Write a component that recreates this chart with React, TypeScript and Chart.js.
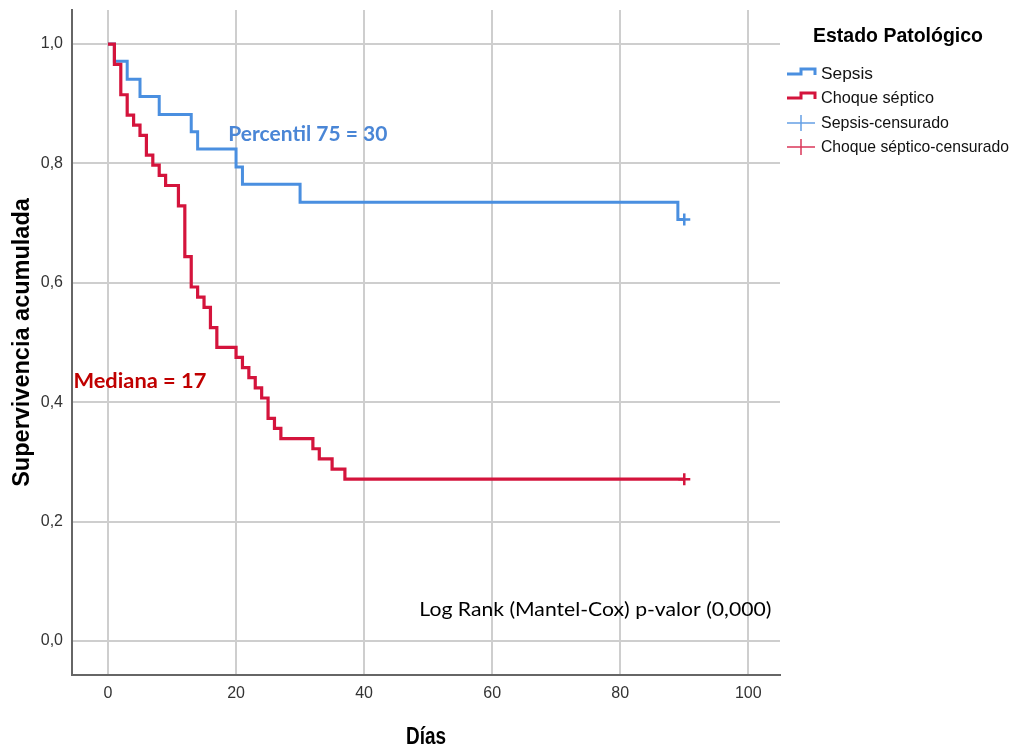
import { useEffect, useRef } from "react";
import { Chart, registerables } from "chart.js";

Chart.register(...registerables);

// ---- data ----
const sepsisDays = [0, 1, 3, 5, 8, 13, 14, 20, 21, 30, 89, 90];
const sepsisSurvival = [1.0, 0.971, 0.941, 0.912, 0.882, 0.853, 0.824, 0.794, 0.765, 0.735, 0.706, 0.706];
const shockDays = [0, 1, 2, 3, 4, 5, 6, 7, 8, 9, 11, 12, 13, 14, 15, 16, 17, 20, 21, 22, 23, 24, 25, 26, 27, 32, 33, 35, 37, 90];
const shockSurvival = [1.0, 0.966, 0.915, 0.881, 0.864, 0.847, 0.814, 0.797, 0.78, 0.763, 0.729, 0.644, 0.593, 0.576, 0.559, 0.525, 0.492, 0.475, 0.458, 0.441, 0.424, 0.407, 0.373, 0.356, 0.339, 0.322, 0.305, 0.288, 0.271, 0.271];
const sepsisCensorDays = [90];
const sepsisCensorSurvival = [0.706];
const shockCensorDays = [90];
const shockCensorSurvival = [0.271];
const xTicks = [0, 20, 40, 60, 80, 100];
const yTicks = [0, 0.2, 0.4, 0.6, 0.8, 1.0];
const legendTitle = "Estado Patológico";
const legendLabels = ["Sepsis", "Choque séptico", "Sepsis-censurado", "Choque séptico-censurado"];
const xTitle = "Días";
const yTitle = "Supervivencia acumulada";
const annotPercentil = "Percentil 75 = 30";
const annotMediana = "Mediana = 17";
const annotLogRank = "Log Rank (Mantel-Cox) p-valor (0,000)";

const BLUE = "#4a8fe0";
const RED = "#d4143c";
const SANS = "'Liberation Sans', Arial, sans-serif";
const CAL = "Lato, 'Open Sans', sans-serif";

function drawFitted(
  ctx: CanvasRenderingContext2D,
  text: string,
  px: number,
  py: number,
  font: string,
  color: string,
  align: CanvasTextAlign,
  targetWidth: number
) {
  ctx.save();
  ctx.font = font;
  const w = ctx.measureText(text).width;
  const sx = targetWidth / w;
  ctx.translate(px, py);
  ctx.scale(sx, 1);
  ctx.fillStyle = color;
  ctx.textAlign = align;
  ctx.textBaseline = "middle";
  ctx.fillText(text, 0, 0);
  ctx.restore();
}

const overlayPlugin = {
  id: "overlay",
  afterDraw(chart: any) {
    const { ctx, chartArea } = chart;
    const xs = chart.scales.x;
    const ys = chart.scales.y;
    // annotations
    drawFitted(ctx, annotPercentil, xs.getPixelForValue(18.8), ys.getPixelForValue(0.848), `bold 20px ${CAL}`, "#4a86d6", "left", 159);
    drawFitted(ctx, annotMediana, xs.getPixelForValue(-5.4), ys.getPixelForValue(0.434), `bold 20px ${CAL}`, "#c00000", "left", 133);
    drawFitted(ctx, annotLogRank, xs.getPixelForValue(103.6), ys.getPixelForValue(0.052), `19px ${CAL}`, "#000000", "right", 352);

    // x axis title (condensed, as in the reference)
    drawFitted(ctx, xTitle, (chartArea.left + chartArea.right) / 2, 738, `bold 23px ${SANS}`, "#000", "center", 40);

    // legend
    const R = chartArea.right;
    drawFitted(ctx, legendTitle, R + 118, 36, `bold 21px ${SANS}`, "#000", "center", 170);
    const rows = [74, 98, 123, 147];
    const colors = [BLUE, RED, BLUE, RED];
    const widths = [52, 113, 128, 188];
    ctx.save();
    rows.forEach((ry, i) => {
      const x0 = R + 7;
      const x1 = R + 35;
      ctx.strokeStyle = colors[i];
      if (i < 2) {
        ctx.lineWidth = 3;
        ctx.lineJoin = "miter";
        ctx.beginPath();
        ctx.moveTo(x0, ry);
        ctx.lineTo(x0 + 14, ry);
        ctx.lineTo(x0 + 14, ry - 5);
        ctx.lineTo(x1, ry - 5);
        ctx.lineTo(x1, ry + 1);
        ctx.stroke();
      } else {
        ctx.globalAlpha = 0.85;
        ctx.lineWidth = 1.5;
        ctx.beginPath();
        ctx.moveTo(x0, ry);
        ctx.lineTo(x1, ry);
        ctx.moveTo(x0 + 14, ry - 8);
        ctx.lineTo(x0 + 14, ry + 8);
        ctx.stroke();
        ctx.globalAlpha = 1;
      }
      drawFitted(ctx, legendLabels[i], R + 41, ry, `17px ${SANS}`, "#111", "left", widths[i]);
    });
    ctx.restore();
  },
};

export default function App() {
  const ref = useRef<HTMLCanvasElement | null>(null);
  useEffect(() => {
    if (!ref.current) return;
    const chart = new Chart(ref.current, {
      type: "line",
      data: {
        datasets: [
          {
            label: legendLabels[3],
            data: shockCensorDays.map((d, i) => ({ x: d, y: shockCensorSurvival[i] })),
            showLine: false,
            pointStyle: "cross",
            pointRadius: 6,
            pointBorderWidth: 2.5,
            borderColor: RED,
            order: -2,
          },
          {
            label: legendLabels[2],
            data: sepsisCensorDays.map((d, i) => ({ x: d, y: sepsisCensorSurvival[i] })),
            showLine: false,
            pointStyle: "cross",
            pointRadius: 6,
            pointBorderWidth: 2.5,
            borderColor: BLUE,
            order: -1,
          },
          {
            label: legendLabels[1],
            data: shockDays.map((d, i) => ({ x: d, y: shockSurvival[i] })),
            stepped: "before",
            borderColor: RED,
            borderWidth: 3.2,
            pointRadius: 0,
            fill: false,
            order: 0,
          },
          {
            label: legendLabels[0],
            data: sepsisDays.map((d, i) => ({ x: d, y: sepsisSurvival[i] })),
            stepped: "before",
            borderColor: BLUE,
            borderWidth: 3,
            pointRadius: 0,
            fill: false,
            order: 1,
          },
        ],
      },
      options: {
        animation: false,
        responsive: false,
        maintainAspectRatio: false,
        layout: { padding: { left: 0, right: 236, top: 10, bottom: 0 } },
        plugins: { legend: { display: false }, tooltip: { enabled: false } },
        scales: {
          x: {
            type: "linear",
            min: -5.62,
            max: 104.95,
            afterBuildTicks: (s: any) => {
              s.ticks = xTicks.map((v) => ({ value: v }));
            },
            afterFit: (s: any) => {
              s.height = 74;
              s.paddingLeft = 0;
              s.paddingRight = 0;
            },
            grid: { color: "#cecece", lineWidth: 2, drawTicks: false },
            border: { color: "#666666", width: 2 },
            ticks: {
              padding: 9,
              color: "#333",
              font: { family: SANS, size: 16 },
              callback: (v: any) => String(v),
            },
            title: { display: false, text: xTitle },
          },
          y: {
            type: "linear",
            min: -0.057,
            max: 1.057,
            afterBuildTicks: (s: any) => {
              s.ticks = yTicks.map((v) => ({ value: v }));
            },
            afterFit: (s: any) => {
              s.width = 72;
              s.paddingTop = 0;
              s.paddingBottom = 0;
            },
            grid: { color: "#cecece", lineWidth: 2, drawTicks: false },
            border: { color: "#666666", width: 2 },
            ticks: {
              padding: 9,
              color: "#333",
              font: { family: SANS, size: 16 },
              callback: (v: any) => Number(v).toFixed(1).replace(".", ","),
            },
            title: {
              display: true,
              text: yTitle,
              color: "#000",
              font: { family: SANS, weight: "bold", size: 23.5 },
              padding: { top: 8, bottom: 0 },
            },
          },
        },
      },
      plugins: [overlayPlugin],
    } as any);
    return () => chart.destroy();
  }, []);
  return (
    <div style={{ position: "absolute", left: 0, top: 0, width: 1016, height: 749, background: "#fff" }}>
      <canvas ref={ref} width={1016} height={749} style={{ display: "block", width: 1016, height: 749 }} />
    </div>
  );
}
